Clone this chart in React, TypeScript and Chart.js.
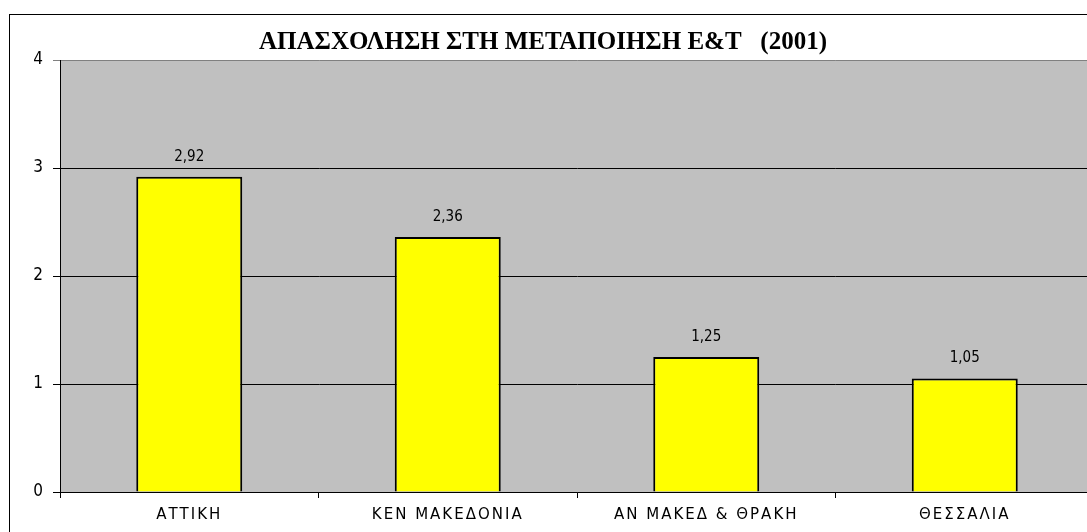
import React, { useEffect, useRef } from "react";
import { Chart, registerables } from "chart.js";

Chart.register(...registerables);

const categories = ["ΑΤΤΙΚΗ", "ΚΕΝ ΜΑΚΕΔΟΝΙΑ", "ΑΝ ΜΑΚΕΔ & ΘΡΑΚΗ", "ΘΕΣΣΑΛΙΑ"];
const values = [2.92, 2.36, 1.25, 1.05];
const valueLabels = ["2,92", "2,36", "1,25", "1,05"];
const yMin = 0;
const yMax = 4;
const yStep = 1;
const titleText = "ΑΠΑΣΧΟΛΗΣΗ ΣΤΗ ΜΕΤΑΠΟΙΗΣΗ Ε&Τ   (2001)";

const SANS_C = "'DejaVu Sans Condensed', 'DejaVu Sans', sans-serif";
const SANS = "'DejaVu Sans', sans-serif";
const SERIF = "'Liberation Serif', 'Times New Roman', serif";

const CANVAS_W = 1094;
const CANVAS_H = 532;

export default function App() {
  const canvasRef = useRef<HTMLCanvasElement | null>(null);

  useEffect(() => {
    const canvas = canvasRef.current;
    if (!canvas) return;

    const decor = {
      id: "decor",
      beforeDraw(chart: any) {
        const { ctx, chartArea } = chart;
        ctx.save();
        ctx.fillStyle = "#C0C0C0";
        ctx.fillRect(chartArea.left, chartArea.top, chartArea.right - chartArea.left, chartArea.bottom - chartArea.top);
        ctx.restore();
      },
      afterDatasetsDraw(chart: any) {
        const { ctx } = chart;
        ctx.save();
        (ctx as any).letterSpacing = "0px";
        const meta = chart.getDatasetMeta(0);
        ctx.fillStyle = "#000";
        ctx.font = `15px ${SANS_C}`;
        ctx.textAlign = "center";
        ctx.textBaseline = "middle";
        meta.data.forEach((el: any, i: number) => {
          ctx.fillText(valueLabels[i], el.x, el.y - 20);
        });
        ctx.font = `bold 25px ${SERIF}`;
        ctx.fillText(titleText, 543, 43);
        ctx.restore();
        (ctx as any).letterSpacing = "2px";
      },
      afterDraw(chart: any) {
        (chart.ctx as any).letterSpacing = "0px";
      },
    };

    const chart = new Chart(canvas, {
      type: "bar",
      data: {
        labels: categories,
        datasets: [
          {
            data: values,
            backgroundColor: "#FFFF00",
            borderColor: "#000000",
            borderWidth: 2,
            borderSkipped: "start",
            barPercentage: 0.41,
            categoryPercentage: 1,
          },
        ],
      },
      options: {
        responsive: false,
        animation: false,
        devicePixelRatio: 1,
        layout: { padding: { top: 60, left: 0, right: 0, bottom: 0 } },
        plugins: {
          legend: { display: false },
          title: { display: false },
          tooltip: { enabled: false },
        },
        scales: {
          x: {
            offset: true,
            grid: {
              display: true,
              drawOnChartArea: false,
              drawTicks: true,
              tickLength: 6,
              color: "#000",
              offset: true,
            },
            border: { display: true, color: "#000", width: 1 },
            ticks: {
              color: "#000",
              font: { family: SANS, size: 15 },
              padding: 8,
              maxRotation: 0,
              autoSkip: false,
              z: 1,
            },
            afterFit(scale: any) {
              scale.height = 40;
            },
          },
          y: {
            min: yMin,
            max: yMax,
            grid: {
              color: (c: any) => (c.tick && c.tick.value === yMax ? "#808080" : "#000"),
              lineWidth: 1,
              tickLength: 7,
              drawTicks: true,
            },
            border: { display: true, color: "#000", width: 1 },
            ticks: {
              stepSize: yStep,
              color: "#000",
              font: { family: SANS_C, size: 17 },
              padding: 10,
              callback: (v: any) => String(v),
            },
            afterFit(scale: any) {
              scale.width = 60;
            },
          },
        },
      },
      plugins: [decor],
    });

    return () => chart.destroy();
  }, []);

  return (
    <div
      style={{
        position: "fixed",
        left: 0,
        top: 0,
        width: 1087,
        height: 532,
        overflow: "hidden",
        background: "#fff",
      }}
    >
      <div
        style={{
          position: "absolute",
          left: 9,
          top: 14,
          width: 2000,
          height: 2000,
          borderLeft: "1px solid #000",
          borderTop: "1px solid #000",
        }}
      />
      <canvas
        ref={canvasRef}
        width={CANVAS_W}
        height={CANVAS_H}
        style={{ position: "absolute", left: 0, top: 0, width: CANVAS_W, height: CANVAS_H }}
      />
    </div>
  );
}
